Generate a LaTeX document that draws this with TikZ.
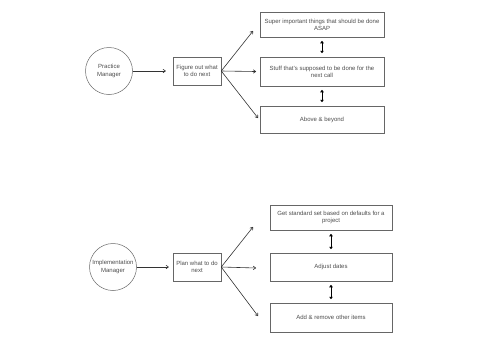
\documentclass[tikz,border=0pt]{standalone}
\usepackage{fontspec}
\setmainfont{Liberation Sans}
\usetikzlibrary{arrows.meta}
\begin{document}
\begin{tikzpicture}[x=1pt,y=-1pt,
  every node/.style={font=\fontsize{6}{7.2}\selectfont, text=black!70, align=center, inner sep=1pt},
  circ/.style={draw=black!60, circle, minimum size=47pt, line width=0.5pt},
  box/.style={draw=black!60, rectangle, line width=0.5pt},
  conn/.style={draw=black!80, line width=0.6pt, -{To[length=3pt,width=4pt]}},
  dbl/.style={draw=black, line width=0.6pt, {Triangle[length=2.5pt,width=3.5pt]}-{Triangle[length=2.5pt,width=3.5pt]}}]
\useasboundingbox (0,0) rectangle (500,341);
% top section
\node[circ] (pm) at (109,71) {Practice\\Manager};
\node[box, minimum width=48pt, minimum height=28pt] (fo) at (197,71) {Figure out what\\to do next};
\node[box, minimum width=124pt, minimum height=25pt] (t1) at (322,24.5) {Super important things that should be done\\ASAP};
\node[box, minimum width=124pt, minimum height=29pt] (t2) at (322,71.5) {Stuff that's supposed to be done for the\\next call};
\node[box, minimum width=124pt, minimum height=27pt] (t3) at (322,119.5) {Above \& beyond};
\draw[conn] (pm) -- ([xshift=-7pt]fo.west);
\coordinate (e1) at (253,31);
\coordinate (e2) at (256,71.5);
\coordinate (e3) at (258,118);
\draw[conn] (fo.east) -- (e1);
\draw[conn] (fo.east) -- (e2);
\draw[conn] (fo.east) -- (e3);
\draw[dbl] ([yshift=-3.5pt]t1.south) -- ([yshift=3.5pt]t2.north);
\draw[dbl] ([yshift=-3.5pt]t2.south) -- ([yshift=3.5pt]t3.north);
% bottom section
\node[circ] (im) at (113,267) {Implementation\\Manager};
\node[box, minimum width=48pt, minimum height=28pt] (pw) at (197,267) {Plan what to do\\next};
\node[box, minimum width=122pt, minimum height=25pt] (b1) at (331,217.5) {Get standard set based on defaults for a\\project};
\node[box, minimum width=122pt, minimum height=28pt] (b2) at (331,267) {Adjust dates};
\node[box, minimum width=122pt, minimum height=29pt] (b3) at (331,317.5) {Add \& remove other items};
\draw[conn] (im) -- ([xshift=-4pt]pw.west);
\coordinate (f1) at (253,227);
\coordinate (f2) at (256,268);
\coordinate (f3) at (258,316);
\draw[conn] (pw.east) -- (f1);
\draw[conn] (pw.east) -- (f2);
\draw[conn] (pw.east) -- (f3);
\draw[dbl] ([yshift=-3.5pt]b1.south) -- ([yshift=3.5pt]b2.north);
\draw[dbl] ([yshift=-3.5pt]b2.south) -- ([yshift=3.5pt]b3.north);
\end{tikzpicture}
\end{document}
